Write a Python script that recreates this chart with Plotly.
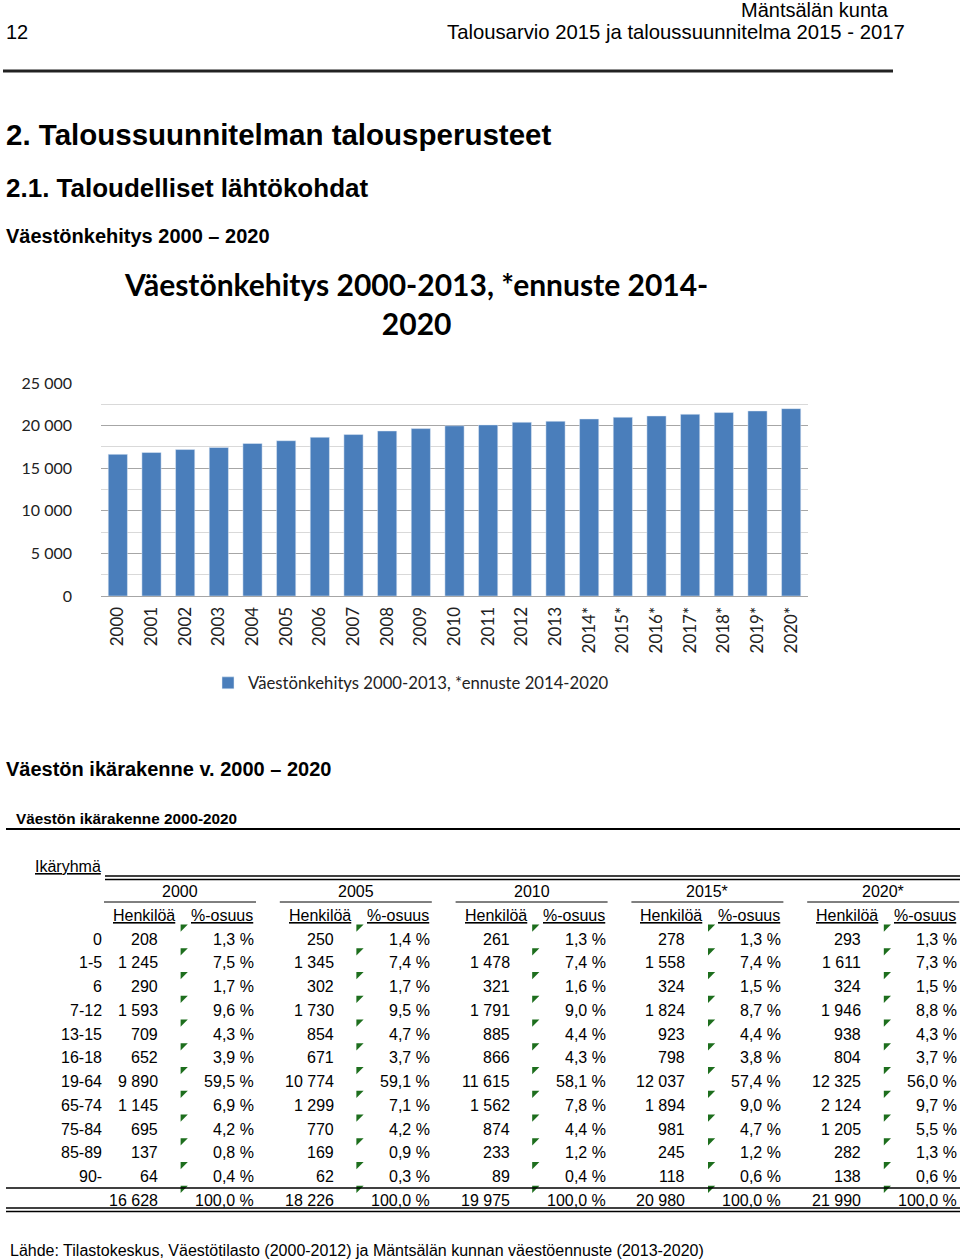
import plotly.graph_objects as go

# Population development (bar chart)
years = ["2000", "2001", "2002", "2003", "2004", "2005", "2006", "2007", "2008", "2009", "2010",
         "2011", "2012", "2013", "2014*", "2015*", "2016*", "2017*", "2018*", "2019*", "2020*"]
population = [16628, 16840, 17190, 17430, 17900, 18226, 18630, 18950, 19370, 19650, 19975,
              20080, 20390, 20510, 20780, 20980, 21130, 21330, 21530, 21720, 21990]

# Age structure table
age_groups = ["0", "1-5", "6", "7-12", "13-15", "16-18", "19-64", "65-74", "75-84", "85-89", "90-"]
table_years = ["2000", "2005", "2010", "2015*", "2020*"]
persons_2000 = [208, 1245, 290, 1593, 709, 652, 9890, 1145, 695, 137, 64]
persons_2005 = [250, 1345, 302, 1730, 854, 671, 10774, 1299, 770, 169, 62]
persons_2010 = [261, 1478, 321, 1791, 885, 866, 11615, 1562, 874, 233, 89]
persons_2015 = [278, 1558, 324, 1824, 923, 798, 12037, 1894, 981, 245, 118]
persons_2020 = [293, 1611, 324, 1946, 938, 804, 12325, 2124, 1205, 282, 138]
shares_2000 = [1.3, 7.5, 1.7, 9.6, 4.3, 3.9, 59.5, 6.9, 4.2, 0.8, 0.4]
shares_2005 = [1.4, 7.4, 1.7, 9.5, 4.7, 3.7, 59.1, 7.1, 4.2, 0.9, 0.3]
shares_2010 = [1.3, 7.4, 1.6, 9.0, 4.4, 4.3, 58.1, 7.8, 4.4, 1.2, 0.4]
shares_2015 = [1.3, 7.4, 1.5, 8.7, 4.4, 3.8, 57.4, 9.0, 4.7, 1.2, 0.6]
shares_2020 = [1.3, 7.3, 1.5, 8.8, 4.3, 3.7, 56.0, 9.7, 5.5, 1.3, 0.6]
totals = [16628, 18226, 19975, 20980, 21990]

persons = [persons_2000, persons_2005, persons_2010, persons_2015, persons_2020]
shares = [shares_2000, shares_2005, shares_2010, shares_2015, shares_2020]

W, H = 960, 1260
DOC_FONT = "Liberation Sans, Arial, sans-serif"
CHART_FONT = "Lato, Noto Sans, sans-serif"


def fmt_int(v):
    return f"{v:,}".replace(",", " ")


def fmt_pct(v):
    return f"{v:.1f}".replace(".", ",") + " %"


def fx(x):
    # page x -> paper fraction
    return x / W


def fy(y):
    # page y -> paper fraction
    return 1 - y / H


annotations = []
shapes = []


def text(x, y, s, size, bold=False, anchor="left", family=DOC_FONT, color="black"):
    if bold:
        s = "<b>" + s + "</b>"
    annotations.append(dict(x=x, y=y, xref="x2", yref="y2", text=s, showarrow=False,
                            xanchor=anchor, yanchor="middle",
                            font=dict(family=family, size=size, color=color)))


def hline(x0, x1, y, width=1, color="black"):
    shapes.append(dict(type="line", xref="x2", yref="y2", x0=x0, x1=x1, y0=y, y1=y,
                       line=dict(color=color, width=width)))


fig = go.Figure()

fig.add_trace(go.Bar(x=years, y=population, marker_color="#4a7ebb",
                     name="Väestönkehitys 2000-2013, *ennuste 2014-2020",
                     xaxis="x", yaxis="y"))

# Page header
text(891, 10, "Mäntsälän kunta", 20, anchor="right")
text(4, 32, "12", 20)
text(907, 32, "Talousarvio 2015 ja taloussuunnitelma 2015 - 2017", 20.3, anchor="right")
hline(3, 893, 71, width=3, color="#222222")
text(4, 134, "2. Taloussuunnitelman talousperusteet", 29.5, bold=True)
text(4, 188, "2.1. Taloudelliset lähtökohdat", 26, bold=True)
text(4, 236, "Väestönkehitys 2000 – 2020", 20, bold=True)

# Chart title
text(416, 303, "Väestönkehitys 2000-2013, *ennuste 2014-<br>2020", 30, bold=True,
     anchor="center", family=CHART_FONT)

# Table section
text(4, 769, "Väestön ikärakenne v. 2000 – 2020", 20, bold=True)
text(14, 818, "Väestön ikärakenne 2000-2020", 15.3, bold=True)
hline(6, 960, 829, width=2)
text(103, 866, "<u>Ikäryhmä</u>", 16, anchor="right")
hline(105, 960, 876, width=1.5)
hline(105, 960, 879.5, width=1.5)

row_y0 = 939
row_step = 23.75
group_step = 175.8
tri_x = []
tri_y = []
for g, year in enumerate(table_years):
    off = g * group_step
    text(180 + off, 891, year, 16, anchor="center")
    hline(104 + off, 256 + off, 902, width=1)
    text(144 + off, 915, "<u>Henkilöä</u>", 16, anchor="center")
    text(222 + off, 915, "<u>%-osuus</u>", 16, anchor="center")
    for r in range(len(age_groups)):
        y = row_y0 + r * row_step
        text(160 + off, y, fmt_int(persons[g][r]), 16, anchor="right")
        text(256 + off, y, fmt_pct(shares[g][r]), 16, anchor="right")
        tri_x.append(183 + off)
        tri_y.append(y - 12)
    y = row_y0 + len(age_groups) * row_step
    text(160 + off, y, fmt_int(totals[g]), 16, anchor="right")
    text(256 + off, y, fmt_pct(100.0), 16, anchor="right")
    tri_x.append(183 + off)
    tri_y.append(y - 12)

for r, age in enumerate(age_groups):
    text(104, row_y0 + r * row_step, age, 16, anchor="right")

hline(6, 960, 1188, width=1.5)
hline(6, 960, 1208, width=1.5)
hline(6, 960, 1211.5, width=1.5)

text(8, 1250, "Lähde: Tilastokeskus, Väestötilasto (2000-2012) ja Mäntsälän kunnan väestöennuste (2013-2020)",
     16)

# Green error indicators in the table
fig.add_trace(go.Scatter(x=tri_x, y=tri_y, mode="markers", xaxis="x2", yaxis="y2",
                         marker=dict(symbol="triangle-nw", size=8, color="#1d6e1d"),
                         showlegend=False, hoverinfo="skip"))

fig.update_layout(
    width=W, height=H,
    margin=dict(l=0, r=0, t=0, b=0, autoexpand=False),
    paper_bgcolor="white",
    plot_bgcolor="rgba(0,0,0,0)",
    separators=", ",
    bargap=0.43,
    xaxis=dict(domain=[fx(101), fx(808)], anchor="y", type="category", tickangle=-90,
               tickfont=dict(family=CHART_FONT, size=17, color="#222222"),
               showgrid=False, showline=True, linecolor="#a6a6a6", ticks="",
               ticklabelstandoff=3, automargin=False),
    yaxis=dict(domain=[fy(596), fy(383)], anchor="x", range=[0, 25000], dtick=5000,
               tickformat=",d", tickfont=dict(family=CHART_FONT, size=16, color="#222222"),
               gridcolor="#a6a6a6", zeroline=False, ticks="", ticklabelstandoff=28,
               minor=dict(dtick=2500, showgrid=True, gridcolor="#d9d9d9"), automargin=False),
    xaxis2=dict(domain=[0, 1], anchor="y2", range=[0, W], visible=False,
                fixedrange=True, automargin=False),
    yaxis2=dict(domain=[0, 1], anchor="x2", range=[H, 0], visible=False,
                fixedrange=True, automargin=False),
    legend=dict(x=fx(208), y=fy(683), xanchor="left", yanchor="middle",
                font=dict(family=CHART_FONT, size=16.7, color="#222222"),
                bgcolor="rgba(0,0,0,0)", itemwidth=30),
    annotations=annotations,
    shapes=shapes,
)

# the page body has a default 8px margin; drop it so the figure fills the window
fig.write_html("out.html", config={"displayModeBar": False},
               post_script="document.body.style.margin = '0';")
